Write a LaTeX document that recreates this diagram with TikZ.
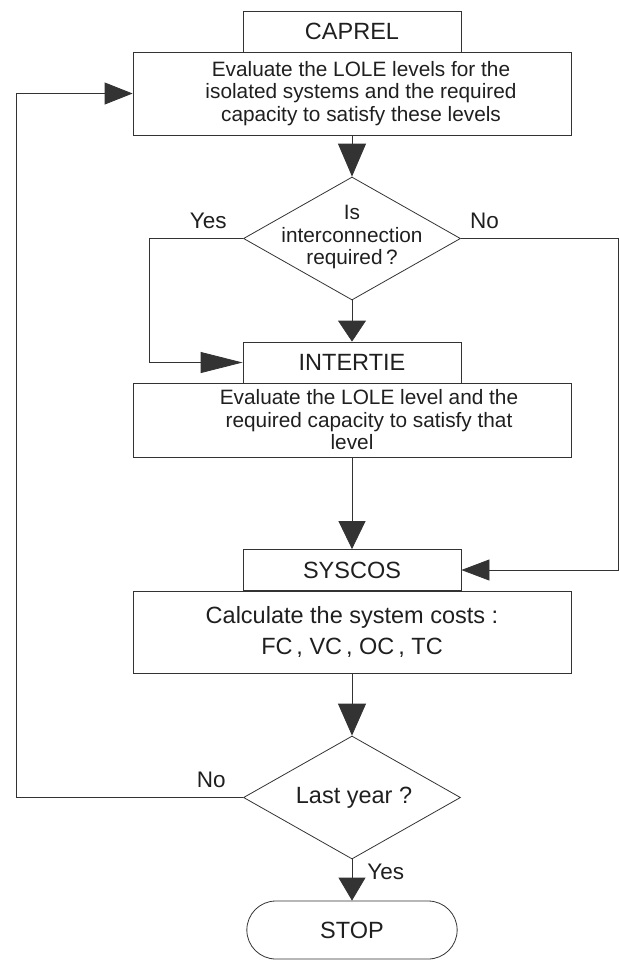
\documentclass[tikz,border=0pt]{standalone}
\usepackage{fontspec}
\setmainfont{Liberation Sans}
\usetikzlibrary{arrows.meta,shapes.geometric,shapes.misc}
\tikzset{
  >={Triangle[length=30pt,width=26pt]},
  head/.style n args={2}{-{Triangle[length=#1,width=#2]}},
  every node/.style={font=\fontsize{20.8}{22.5}\selectfont, text=black!88},
  big/.style={font=\fontsize{23.5}{31}\selectfont},
  answer/.style={font=\fontsize{22.5}{24}\selectfont},
  module/.style={draw, big, minimum width=218pt, minimum height=41pt, inner sep=0pt},
  task/.style={draw, minimum width=438pt, align=center, inner sep=0pt},
  decision/.style={draw, diamond, minimum width=217pt, minimum height=123pt, inner sep=0pt},
  terminal/.style={draw, big, rounded rectangle, minimum width=217pt, minimum height=58pt},
}

\begin{document}
\begin{tikzpicture}[x=1pt,y=-1pt,line width=0.8pt,draw=black!80]
    \useasboundingbox (0,0) rectangle (619,962);
    % boxes
    \node[module] (caprel) at (352,31.5) {CAPREL};
    \node[task, minimum height=83pt] (isolated) at (352,93.5)
      {\hspace*{18pt}Evaluate the LOLE levels for the\\\hspace*{18pt}isolated systems and the required\\\hspace*{18pt}capacity to satisfy these levels};
    \node[decision] (ask) at (352,238.5) {};
    \node[align=center] (asktext) at (352,237) {Is\\interconnection\\required\,?};
    \node[module] (intertie) at (352,362.5) {INTERTIE};
    \node[task, minimum height=74pt] (interlevel) at (352,420)
      {\hspace*{34pt}Evaluate the LOLE level and the\\\hspace*{34pt}required capacity to satisfy that\\level};
    \node[module] (syscos) at (352,570) {SYSCOS};
    \node[task, big, minimum height=82pt] (costs) at (352,632)
      {Calculate the system costs :\\FC\,, VC\,, OC\,, TC};
    \node[decision] (last) at (352,797.5) {};
    \node[big] (lasttext) at (354,798) {Last year ?};
    \node[terminal] (stop) at (352,930) {STOP};
    % rails
    \coordinate (leftrail) at (16,0);
    \coordinate (yesrail) at (149,0);
    \coordinate (norail) at (618,0);
    % main flow
    \draw[head={33pt}{28pt}] (isolated.south) -- (ask.north);
    \draw[head={21pt}{28pt}] (ask.south) -- (intertie.north);
    \draw[head={28pt}{27pt}] (interlevel.south) -- (syscos.north);
    \draw[head={32pt}{28pt}] (costs.south) -- (last.north);
    \draw[head={23pt}{27pt}] (last.south) -- node[answer, pos=0.31, right, inner sep=0pt, xshift=15pt] {Yes} (stop.north);
    % branches
    \draw[head={42pt}{21pt}] (ask.west) -- node[answer, pos=0.37, above=6pt] {Yes} (ask.west -| yesrail)
      |- (intertie.west);
    \draw[head={28pt}{21pt}] (ask.east) -- node[answer, pos=0.15, above=6pt] {No} (ask.east -| norail)
      |- (syscos.east);
    \draw[head={28pt}{22pt}] (last.west) -- node[answer, pos=0.14, above=6pt] {No} (last.west -| leftrail)
      |- (isolated.west);
  \end{tikzpicture}
\end{document}
